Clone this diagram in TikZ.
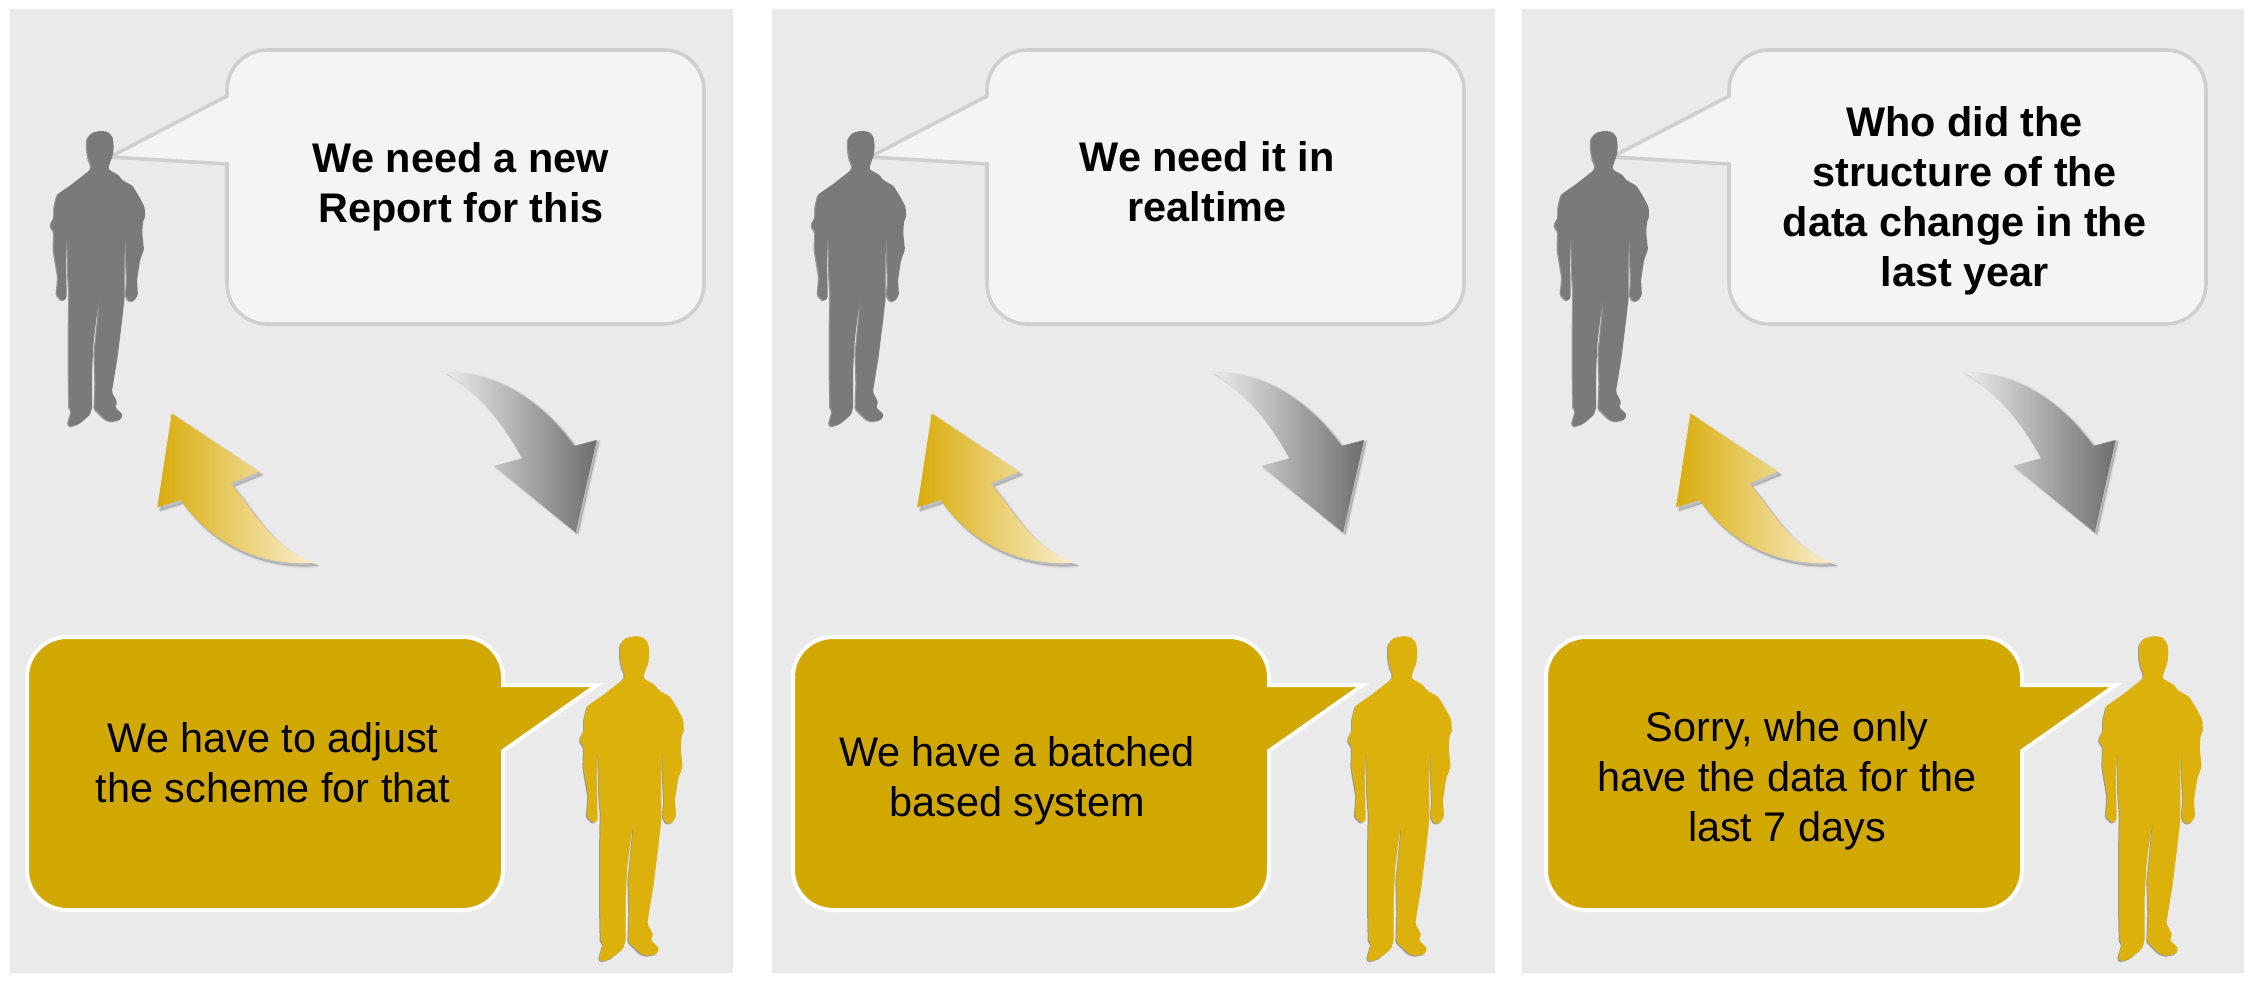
\documentclass[tikz,border=0pt]{standalone}
\usepackage{fontspec}
\setmainfont{Liberation Sans}
\definecolor{panelbg}{HTML}{EAEAEA}
\definecolor{bubblelight}{HTML}{F4F4F4}
\definecolor{bubbleedge}{HTML}{CFCFCF}
\definecolor{bubblegold}{HTML}{D1A800}
\definecolor{mangold}{HTML}{DDB10B}
\definecolor{mangrey}{HTML}{7A7A7A}
\definecolor{arrowgoldA}{HTML}{D9AC0C}
\definecolor{arrowgoldB}{HTML}{F9EFCF}
\definecolor{arrowgreyA}{HTML}{ECECEC}
\definecolor{arrowgreyB}{HTML}{6E6E6E}
\newcommand\manoutline{(225,48) -- (250,52) -- (265,70) -- (268,100) -- (265,130) -- (255,155) -- (250,175) -- (285,195) -- (295,210) -- (330,230) -- (352,265) -- (370,300) -- (372,335) -- (365,345) -- (362,385) -- (368,440) -- (355,475) -- (345,540) -- (348,590) -- (335,610) -- (318,610) -- (308,590) -- (312,545) -- (309,470) -- (306,380) -- (304,470) -- (304,600) -- (295,680) -- (280,800) -- (262,910) -- (280,945) -- (272,960) -- (298,985) -- (290,1002) -- (260,1008) -- (240,1000) -- (205,965) -- (208,880) -- (205,780) -- (215,680) -- (222,600) -- (212,660) -- (202,740) -- (197,830) -- (197,960) -- (190,985) -- (155,1015) -- (125,1025) -- (117,1015) -- (130,970) -- (122,965) -- (120,850) -- (120,700) -- (122,580) -- (118,530) -- (114,385) -- (110,470) -- (112,545) -- (113,600) -- (100,610) -- (80,590) -- (85,530) -- (70,440) -- (72,380) -- (60,365) -- (62,350) -- (72,335) -- (72,300) -- (82,258) -- (130,225) -- (190,178) -- (195,165) -- (185,140) -- (180,110) -- (180,75) -- (195,55) -- cycle}
\newcommand\goldarrowoutline{(95,40) -- (358,215) -- (272,250) .. controls (340,330) and (400,450) .. (525,487) .. controls (425,498) and (240,470) .. (122,300) -- (52,322) -- cycle}
\newcommand\greyarrowoutline{(45,38) .. controls (200,30) and (340,130) .. (432,258) -- (500,240) -- (437,518) -- (192,318) -- (276,295) .. controls (220,190) and (140,90) .. (45,38) -- cycle}
\newcommand\softshadow[3]{%
  \foreach \w/\o in {4/.025,2.5/.035,1/.05,.2/.07}{%
    \filldraw[black,opacity=\o,line width=\w pt,line join=round,shift={(#1,#2)}] #3;}}
\newcommand\drawman[5]{% x, y, scale, colour, shadow dx
  \begin{scope}[shift={(#1,#2)},scale=#3]
    \fill[black,opacity=.35,rounded corners=1.5pt,shift={(#5,3)}] \manoutline;
    \fill[#4,rounded corners=1.5pt] \manoutline;
  \end{scope}}
\newcommand\goldarrow[1]{%
  \begin{scope}[shift={(#1,400)},scale=1/3]
    \softshadow{9}{10}{\goldarrowoutline}
    \shade[left color=arrowgoldA,right color=arrowgoldB] \goldarrowoutline;
  \end{scope}}
\newcommand\greyarrow[1]{%
  \begin{scope}[shift={(#1,360)},scale=1/3]
    \softshadow{7}{4}{\greyarrowoutline}
    \shade[left color=arrowgreyA,right color=arrowgreyB] \greyarrowoutline;
  \end{scope}}
\newcommand\topbubble[1]{%
  \draw[xshift=#1,fill=bubblelight,draw=bubbleedge,line width=3.6pt,line join=miter]
    (227,96) -- (110,157) -- (227,164) -- (227,284) .. controls (227,306) and (245,324) .. (267,324)
    -- (664,324) .. controls (686,324) and (704,306) .. (704,284)
    -- (704,90) .. controls (704,68) and (686,50) .. (664,50)
    -- (267,50) .. controls (245,50) and (227,68) .. (227,90) -- cycle;}
\newcommand\botbubble[1]{%
  \draw[xshift=#1,fill=bubblegold,draw=white,line width=4pt,line join=miter]
    (503,685) -- (597,685) -- (503,751) -- (503,870) .. controls (503,892) and (485,910) .. (463,910)
    -- (67,910) .. controls (45,910) and (27,892) .. (27,870)
    -- (27,677) .. controls (27,655) and (45,637) .. (67,637)
    -- (463,637) .. controls (485,637) and (503,655) .. (503,677) -- cycle;}
\tikzset{
  speech/.style={inner sep=0pt,anchor=base,align=center,text=black,font=\fontsize{41.4}{50}\selectfont},
  speechbold/.style={speech,font=\fontsize{41.4}{50}\selectfont\bfseries},
}
\begin{document}
\begin{tikzpicture}[x=1pt,y=-1pt]
\useasboundingbox (0,0) rectangle (2254,981);
\fill[white] (0,0) rectangle (2254,981);
\fill[panelbg] (10,9) rectangle (733,973);
\fill[panelbg] (772,9) rectangle (1495,973);
\fill[panelbg] (1522,9) rectangle (2244,973);
% panel 1
\topbubble{0}
\botbubble{0}
\drawman{32.5}{116.2}{0.303}{mangrey}{-4}
\drawman{560}{620}{0.3333}{mangold}{-3}
\goldarrow{140}
\greyarrow{430}
\node[speechbold] (q1) at (461,223) {We need a new\\Report for this};
\node[speech] (a1) at (273,802) {We have to adjust\\the scheme for that};
% panel 2
\topbubble{760}
\botbubble{766}
\drawman{793.5}{116.2}{0.303}{mangrey}{-4}
\drawman{1328}{620}{0.3333}{mangold}{-3}
\goldarrow{900}
\greyarrow{1197.3}
\node[speechbold] (q2) at (1207,222) {We need it in\\realtime};
\node[speech] (a2) at (1017,816) {We have a batched\\based system};
% panel 3
\topbubble{1502}
\botbubble{1519}
\drawman{1536.5}{116.2}{0.303}{mangrey}{-4}
\drawman{2079}{620}{0.3333}{mangold}{-3}
\goldarrow{1658.7}
\greyarrow{1949}
\node[speechbold] (q3) at (1964.5,287) {Who did the\\structure of the\\data change in the\\last year};
\node[speech] (a3) at (1787,841) {Sorry, whe only\\have the data for the\\last 7 days};
\end{tikzpicture}
\end{document}
